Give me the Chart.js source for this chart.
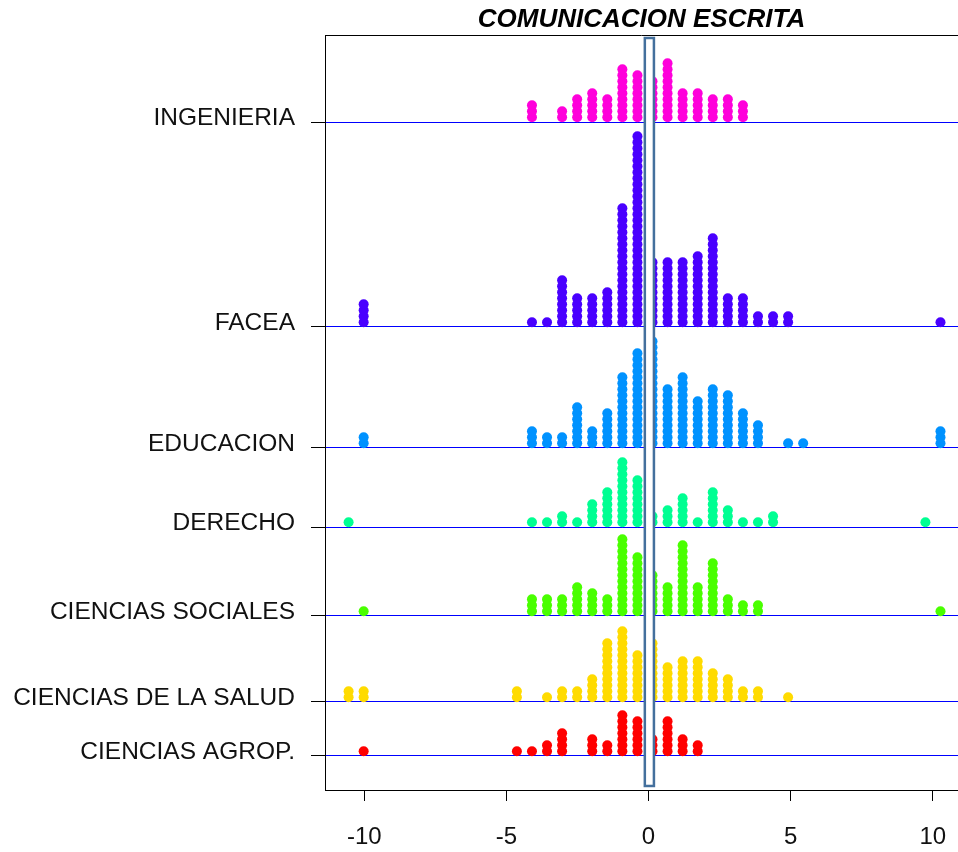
<!DOCTYPE html>
<html>
<head>
<meta charset="utf-8">
<title>COMUNICACION ESCRITA</title>
<script src="https://cdn.jsdelivr.net/npm/chart.js@4.4.1/dist/chart.umd.min.js"></script>
<style>
  html, body { margin: 0; padding: 0; background: #ffffff; }
  canvas { display: block; }
</style>
</head>
<body>
<canvas id="chart" width="958" height="852"></canvas>
<script>
// Faculties, bottom to top
const groups = ['CIENCIAS AGROP.', 'CIENCIAS DE LA SALUD', 'CIENCIAS SOCIALES', 'DERECHO', 'EDUCACION', 'FACEA', 'INGENIERIA'];
const groupColors = ['#FF0000', '#FFDB00', '#49FF00', '#00FF92', '#0092FF', '#4900FF', '#FF00DB'];

// Distinct score differences observed
const scoreValues = [-10.55, -10.02, -4.63, -4.10, -3.57, -3.04, -2.51, -1.98, -1.45, -0.92, -0.39, 0.14,
                     0.67, 1.20, 1.73, 2.26, 2.79, 3.32, 3.85, 4.38, 4.91, 5.44, 9.74, 10.27];

// Number of students at each score value, per faculty
const countsAgrop     = [0, 1, 1, 1, 2, 4, 0, 3, 2, 7, 6, 3, 6, 3, 2, 0, 0, 0, 0, 0, 0, 0, 0, 0];
const countsSalud     = [2, 2, 2, 0, 1, 2, 2, 4, 10, 12, 8, 10, 6, 7, 7, 5, 4, 2, 2, 0, 1, 0, 0, 0];
const countsSociales  = [0, 1, 0, 3, 3, 3, 5, 4, 3, 13, 10, 7, 5, 12, 5, 9, 3, 2, 2, 0, 0, 0, 0, 1];
const countsDerecho   = [1, 0, 0, 1, 1, 2, 1, 4, 6, 11, 8, 2, 3, 5, 1, 6, 3, 1, 1, 2, 0, 0, 1, 0];
const countsEducacion = [0, 2, 0, 3, 2, 2, 7, 3, 6, 12, 16, 18, 10, 12, 8, 10, 9, 6, 4, 0, 1, 1, 0, 3];
const countsFacea     = [0, 4, 0, 1, 1, 8, 5, 5, 6, 20, 32, 11, 11, 11, 12, 15, 5, 5, 2, 2, 2, 0, 0, 1];
const countsIng       = [0, 0, 0, 3, 0, 2, 4, 5, 4, 9, 8, 7, 10, 5, 5, 4, 4, 3, 0, 0, 0, 0, 0, 0];
const groupCounts = [countsAgrop, countsSalud, countsSociales, countsDerecho, countsEducacion, countsFacea, countsIng];

// Axis ticks
const xTickValues = [-10, -5, 0, 5, 10];

// Layout: vertical unit = one stacked dot; baseline level of each faculty
const groupLevels = [5.67, 14.67, 29.0, 43.83, 57.0, 77.17, 111.33];
const dotRadius = 5;
const dotLift = 0.8;            // first dot sits on its baseline
const yTop = 125.83;
const xLeft = -11.38, xRight = 10.886;
const refBand = [-0.13, 0.19];  // outlined band around zero

// Stack dots per score value
const datasets = groups.map((name, g) => {
  const pts = [];
  groupCounts[g].forEach((n, i) => {
    for (let k = 0; k < n; k++) {
      pts.push({ x: scoreValues[i], y: groupLevels[g] + dotLift + k });
    }
  });
  return {
    label: name,
    data: pts,
    backgroundColor: groupColors[g],
    borderWidth: 0,
    pointRadius: dotRadius,
    pointHoverRadius: dotRadius,
    pointStyle: 'circle'
  };
});

const frameAndBand = {
  id: 'frameAndBand',
  afterDatasetsDraw(chart) {
    const { ctx, chartArea, scales } = chart;
    const x = scales.x, y = scales.y;
    ctx.save();
    // top border of the plotting frame
    ctx.strokeStyle = '#000000';
    ctx.lineWidth = 1;
    ctx.beginPath();
    ctx.moveTo(chartArea.left, chartArea.top + 0.5);
    ctx.lineTo(chartArea.right, chartArea.top + 0.5);
    ctx.stroke();
    // band around zero
    const x0 = x.getPixelForValue(refBand[0]);
    const x1 = x.getPixelForValue(refBand[1]);
    const y0 = y.getPixelForValue(yTop - 0.5);
    const y1 = y.getPixelForValue(0.67);
    ctx.fillStyle = '#ffffff';
    ctx.fillRect(x0, y0, x1 - x0, y1 - y0);
    ctx.strokeStyle = '#44709d';
    ctx.lineWidth = 2.5;
    ctx.strokeRect(x0, y0, x1 - x0, y1 - y0);
    ctx.restore();
  }
};

new Chart(document.getElementById('chart'), {
  type: 'scatter',
  data: { datasets },
  plugins: [frameAndBand],
  options: {
    responsive: false,
    animation: false,
    devicePixelRatio: 1,
    layout: { padding: 0, autoPadding: false },
    plugins: {
      legend: { display: false },
      tooltip: { enabled: false },
      title: {
        display: true,
        fullSize: false,
        text: 'COMUNICACION ESCRITA',
        color: '#000000',
        font: { family: 'Liberation Sans', size: 26, weight: 'bold', style: 'italic', lineHeight: 1.2 },
        padding: { top: 3.8, bottom: 0 }
      }
    },
    scales: {
      x: {
        type: 'linear',
        min: xLeft,
        max: xRight,
        afterBuildTicks: (axis) => { axis.ticks = xTickValues.map(v => ({ value: v })); },
        afterFit: (axis) => { axis.height = 62; axis.paddingLeft = 0; axis.paddingRight = 0; },
        ticks: {
          color: '#111111',
          font: { family: 'Liberation Sans', size: 24 },
          padding: 22,
          autoSkip: false,
          maxRotation: 0,
          callback: (v) => String(v)
        },
        grid: { drawOnChartArea: false, drawTicks: true, tickLength: 11, tickColor: '#000000', tickWidth: 1 },
        border: { display: true, color: '#000000', width: 1 }
      },
      y: {
        type: 'linear',
        min: 0,
        max: yTop,
        afterBuildTicks: (axis) => { axis.ticks = groupLevels.map(v => ({ value: v })); },
        afterFit: (axis) => { axis.width = 325; axis.paddingTop = 0; axis.paddingBottom = 0; },
        ticks: {
          color: '#111111',
          font: { family: 'Liberation Sans', size: 24.5 },
          padding: 16,
          labelOffset: -4,
          autoSkip: false,
          callback: (v, i) => groups[i]
        },
        grid: { drawOnChartArea: true, color: '#0000ff', lineWidth: 1, drawTicks: true, tickLength: 14, tickColor: '#000000', tickWidth: 1 },
        border: { display: true, color: '#000000', width: 1 }
      }
    }
  }
});
</script>
</body>
</html>
